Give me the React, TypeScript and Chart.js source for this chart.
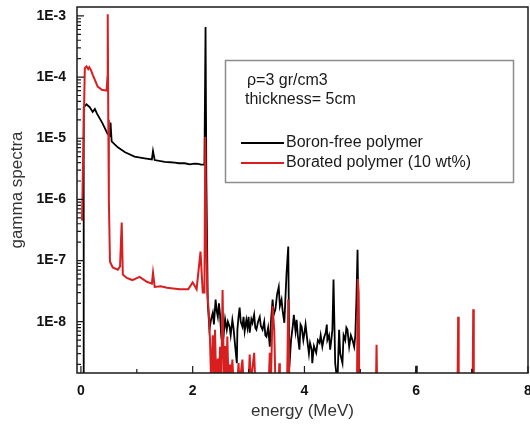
import React, { useEffect, useRef } from "react";
import { Chart, registerables } from "chart.js";

Chart.register(...registerables);

// ---------- data ----------
const seriesLabels = ["Boron-free polymer", "Borated polymer (10 wt%)"];
const seriesColors = ["#000000", "#d81e1e"];
const noteLines = ["\u03c1=3 gr/cm3", "thickness= 5cm"];

const xTickValues = [0, 2, 4, 6, 8];
const xMinorTickValues = [1, 3, 5, 7];
const yTickValues = [1e-3, 1e-4, 1e-5, 1e-6, 1e-7, 1e-8];
const yTickLabels = ["1E-3", "1E-4", "1E-5", "1E-6", "1E-7", "1E-8"];

const xTitle = "energy (MeV)";
const yTitle = "gamma spectra";

// Boron-free polymer (black)
const blackEnergy = [
  0.04, 0.05, 0.1, 0.16, 0.21, 0.25, 0.29, 0.38, 0.48, 0.52, 0.53, 0.55, 0.6, 0.66, 0.79, 0.96,
  1.14, 1.27, 1.29, 1.32, 1.5, 1.6, 1.68, 1.75, 1.86, 1.95, 2.0, 2.05, 2.1, 2.15, 2.21, 2.23, 2.245, 2.27,
  2.3, 2.33, 2.36, 2.38, 2.41, 2.43, 2.45, 2.47, 2.49, 2.51, 2.52, 2.54, 2.56, 2.58, 2.61, 2.63,
  2.66, 2.68, 2.71, 2.73, 2.76, 2.79, 2.8, 2.82, 2.84, 2.86, 2.89, 2.91, 2.93, 2.96, 2.98,
  3.0, 3.02, 3.05, 3.07, 3.1, 3.12, 3.14, 3.17, 3.2, 3.22, 3.25, 3.28, 3.3, 3.32, 3.35, 3.38,
  3.4, 3.43, 3.45, 3.48, 3.51, 3.54, 3.56, 3.59, 3.61, 3.64, 3.66, 3.68, 3.71, 3.73,
  3.76, 3.79, 3.81, 3.84, 3.86, 3.88, 3.91, 3.93, 3.95, 3.98, 4.0, 4.02, 4.05, 4.08, 4.1,
  4.13, 4.14, 4.17, 4.21, 4.24, 4.27, 4.29, 4.32, 4.35, 4.38, 4.4, 4.41, 4.44, 4.46, 4.48,
  4.5, 4.52, 4.55, 4.59, 4.62, 4.64, 4.68, 4.7, 4.73, 4.75, 4.77, 4.8, 4.83, 4.86, 4.89,
  4.91, 4.93, 4.95, 4.98, 5.99, 6.0, 6.01, 6.99, 7.0, 7.01, 8.0,
];
const blackGamma = [
  1e-9, 3.2e-5, 3.6e-5, 3.2e-5, 2.7e-5, 3.0e-5, 2.5e-5, 1.8e-5, 1.17e-5, 1.1e-5, 1.8e-5, 8.9e-6, 8.0e-6, 7.1e-6, 5.9e-6, 5.0e-6,
  4.7e-6, 4.5e-6, 6.2e-6, 4.4e-6, 4.1e-6, 4.05e-6, 4.0e-6, 3.9e-6, 3.9e-6, 3.75e-6, 3.8e-6, 3.85e-6, 3.8e-6, 3.7e-6, 3.7e-6, 6.6e-4, 2e-6, 2e-8,
  7.4e-9, 1.1e-8, 1.4e-8, 9e-9, 2.3e-8, 1.5e-8, 1.2e-8, 2e-8, 1.3e-8, 6e-9, 5e-9, 9.6e-9, 7e-9, 1.1e-8, 7.4e-9, 1e-8,
  8.3e-9, 6e-9, 1.07e-8, 8e-9, 4e-9, 2.1e-9, 7.4e-9, 1.2e-8, 1.7e-8, 1e-8, 8.3e-9, 1.2e-8, 7e-9, 1.07e-8, 8e-9,
  1.2e-8, 6.6e-9, 1.1e-8, 9.6e-9, 1.3e-8, 8e-9, 7.4e-9, 1e-8, 1.2e-8, 8.5e-9, 7.4e-9, 1e-8, 6e-9, 5.7e-9, 8e-9, 3.9e-9,
  1e-8, 2.3e-8, 1.3e-8, 1.6e-8, 2.8e-8, 3.7e-8, 1.8e-8, 2.3e-8, 1.5e-8, 9.6e-9, 2.5e-8, 6.3e-8, 1.7e-7, 1.8e-9,
  5e-9, 8.3e-9, 1.3e-8, 7e-9, 1.07e-8, 6e-9, 3.5e-9, 9e-9, 8.3e-9, 5e-9, 6.6e-9, 9e-9, 5e-9, 3e-9, 4.5e-9,
  3.5e-9, 2.1e-9, 4e-9, 3.1e-9, 5e-9, 4.5e-9, 6e-9, 3.9e-9, 5.5e-9, 6.6e-9, 9e-9, 5e-9, 6e-9, 3.5e-9, 5e-9,
  7.4e-9, 4.9e-8, 2.1e-9, 1e-9, 7.4e-9, 3e-9, 2.1e-9, 6e-9, 5e-9, 8e-9, 7.4e-9, 3.9e-9, 6e-9, 5e-9, 3.9e-9,
  6e-9, 2.3e-8, 1.5e-7, 1e-9, 1e-9, 1.9e-9, 1e-9, 1e-9, 1.7e-9, 1e-9, 1e-9,
];

// Borated polymer (red)
const redEnergy = [
  0.02, 0.04, 0.07, 0.1, 0.13, 0.15, 0.18, 0.21, 0.25, 0.3, 0.375, 0.46, 0.475, 0.48, 0.49, 0.5,
  0.52, 0.57, 0.66, 0.7, 0.73, 0.75, 0.82, 0.92, 1.05, 1.18, 1.27, 1.29, 1.32, 1.43, 1.54, 1.65,
  1.77, 1.92, 2.0, 2.07, 2.14, 2.18, 2.21, 2.225, 2.24, 2.26, 2.29, 2.31, 2.33, 2.36, 2.38, 2.4,
  2.42, 2.45, 2.47, 2.49, 2.51, 2.535, 2.56, 2.58, 2.6, 2.62, 2.64, 2.67, 2.69, 2.71, 2.73,
  2.8, 2.82, 2.84, 2.89, 2.91, 3.0, 3.02, 3.04, 3.1, 3.12, 3.36, 3.38, 3.4, 3.43, 3.46, 3.48,
  3.54, 3.55, 3.56, 3.69, 3.71, 3.73, 4.94, 4.955, 4.97, 4.98,
  5.28, 5.29, 5.3, 6.74, 6.75, 6.76, 7.01, 7.02, 7.03, 8.0,
];
const redGamma = [
  4.5e-7, 5e-6, 1.4e-4, 1.5e-4, 1.35e-4, 1.45e-4, 1.3e-4, 1.1e-4, 9e-5, 7e-5, 6.2e-5, 6.0e-5, 1e-4, 1.07e-3, 2e-5, 1e-6,
  9.6e-8, 7.7e-8, 7.1e-8, 8e-8, 4.2e-7, 5.9e-8, 5.2e-8, 4.8e-8, 5.4e-8, 4.5e-8, 4.2e-8, 6.3e-8, 3.7e-8, 3.8e-8, 3.6e-8, 3.5e-8,
  3.4e-8, 3.4e-8, 4.4e-8, 3.4e-8, 1.4e-7, 3e-8, 3e-8, 1.05e-5, 4e-7, 3e-8, 1.4e-8, 5e-9, 1e-9, 6e-9, 1e-9, 7.4e-9,
  1e-9, 2.5e-9, 1e-9, 3.9e-9, 1e-9, 3.3e-8, 1e-9, 4e-9, 1e-9, 5.7e-9, 1e-9, 2e-9, 1e-9, 2.4e-9, 1e-9,
  1e-9, 2.1e-9, 1e-9, 2.4e-9, 1e-9, 1e-9, 2.9e-9, 1e-9, 3.1e-9, 1e-9, 1e-9, 3.1e-9, 1e-9, 1.8e-8, 7e-9, 1e-9,
  1e-9, 2.1e-9, 1e-9, 1e-9, 2.3e-8, 1e-9, 1e-9, 5e-8, 3e-8, 1e-9,
  1e-9, 4.2e-9, 1e-9, 1e-9, 1.2e-8, 1e-9, 1e-9, 1.6e-8, 1e-9, 1e-9,
];

const FONT = '"Liberation Sans", Arial, Helvetica, sans-serif';

const toPoints = (xs: number[], ys: number[]) => xs.map((x, i) => ({ x, y: ys[i] }));

const framePlugin = {
  id: "frameAndLegend",
  afterDraw(chart: any) {
    const { ctx, chartArea: a } = chart;
    const xs = chart.scales.x;
    const ys = chart.scales.y;
    ctx.save();
    // frame
    ctx.strokeStyle = "#1a1a1a";
    ctx.lineWidth = 1.5;
    ctx.strokeRect(a.left, a.top, a.right - a.left, a.bottom - a.top);
    // inward ticks
    ctx.lineWidth = 1.2;
    ctx.beginPath();
    xTickValues.forEach((v) => {
      const px = xs.getPixelForValue(v);
      ctx.moveTo(px, a.bottom);
      ctx.lineTo(px, a.bottom - 7);
    });
    xMinorTickValues.forEach((v) => {
      const px = xs.getPixelForValue(v);
      ctx.moveTo(px, a.bottom);
      ctx.lineTo(px, a.bottom - 4);
    });
    for (let d = -9; d <= -3; d++) {
      for (let m = 1; m <= 9; m++) {
        const v = m * Math.pow(10, d);
        if (v < ys.min || v > ys.max) continue;
        const py = ys.getPixelForValue(v);
        ctx.moveTo(a.left, py);
        ctx.lineTo(a.left + (m === 1 ? 7 : 4), py);
      }
    }
    ctx.stroke();

    // legend / note box
    ctx.strokeStyle = "#8c8c8c";
    ctx.lineWidth = 1.5;
    ctx.strokeRect(225.5, 60.5, 288, 122);
    ctx.fillStyle = "#1a1a1a";
    ctx.textBaseline = "middle";
    ctx.textAlign = "left";
    ctx.font = `16px ${FONT}`;
    ctx.fillText(noteLines[0], 247, 81);
    ctx.fillText(noteLines[1], 245, 100);
    const rows = [143, 163];
    chart.data.datasets.forEach((ds: any, i: number) => {
      const yy = rows[i];
      ctx.strokeStyle = ds.borderColor;
      ctx.lineWidth = 2;
      ctx.beginPath();
      ctx.moveTo(241, yy);
      ctx.lineTo(284, yy);
      ctx.stroke();
      ctx.fillStyle = "#1a1a1a";
      ctx.fillText(ds.label, 286, yy);
    });
    ctx.restore();
  },
};

export default function App() {
  const canvasRef = useRef<HTMLCanvasElement | null>(null);

  useEffect(() => {
    document.body.style.margin = "0";
    const canvas = canvasRef.current;
    if (!canvas) return;
    Chart.defaults.font.family = FONT;

    const chart = new Chart(canvas, {
      type: "line",
      data: {
        datasets: [
          {
            label: seriesLabels[0],
            data: toPoints(blackEnergy, blackGamma),
            borderColor: seriesColors[0],
            backgroundColor: seriesColors[0],
            borderWidth: 1.8,
            pointRadius: 0,
            tension: 0,
            order: 1,
          },
          {
            label: seriesLabels[1],
            data: toPoints(redEnergy, redGamma),
            borderColor: seriesColors[1],
            backgroundColor: seriesColors[1],
            borderWidth: 2,
            pointRadius: 0,
            tension: 0,
            order: 0,
          },
        ],
      },
      options: {
        animation: false,
        responsive: false,
        events: [],
        layout: { padding: { top: 7, right: 2, left: 0, bottom: 0 } },
        plugins: {
          legend: { display: false },
          tooltip: { enabled: false },
        },
        scales: {
          x: {
            type: "linear",
            min: -0.07,
            max: 8,
            afterBuildTicks: (s: any) => {
              s.ticks = xTickValues.map((v) => ({ value: v }));
            },
            afterFit: (s: any) => {
              s.height = 52;
              s.paddingLeft = 0;
              s.paddingRight = 0;
            },
            grid: { display: false, drawTicks: false },
            border: { display: false },
            ticks: {
              autoSkip: false,
              maxRotation: 0,
              padding: 10,
              color: "#111",
              font: { size: 14, weight: "bold" },
              callback: (v: any) => String(v),
            },
            title: {
              display: true,
              text: xTitle,
              color: "#333",
              font: { size: 17 },
              padding: { top: 0, bottom: 3 },
            },
          },
          y: {
            type: "logarithmic",
            min: 1.45e-9,
            max: 1.4e-3,
            afterBuildTicks: (s: any) => {
              s.ticks = yTickValues.map((v) => ({ value: v }));
            },
            afterFit: (s: any) => {
              s.width = 77;
              s.paddingTop = 0;
              s.paddingBottom = 0;
            },
            grid: { display: false, drawTicks: false },
            border: { display: false },
            ticks: {
              autoSkip: false,
              padding: 11,
              color: "#111",
              font: { size: 14, weight: "bold" },
              callback: (v: any) => {
                const i = yTickValues.findIndex(
                  (t) => Math.abs(Math.log10(t) - Math.log10(Number(v))) < 1e-6
                );
                return i >= 0 ? yTickLabels[i] : "";
              },
            },
            title: {
              display: true,
              text: yTitle,
              color: "#333",
              font: { size: 17 },
              padding: { top: 7, bottom: 0 },
            },
          },
        },
      },
      plugins: [framePlugin],
    } as any);

    return () => chart.destroy();
  }, []);

  return (
    <div style={{ width: 530, height: 425, background: "#fff" }}>
      <canvas ref={canvasRef} width={530} height={425} style={{ display: "block" }} />
    </div>
  );
}
